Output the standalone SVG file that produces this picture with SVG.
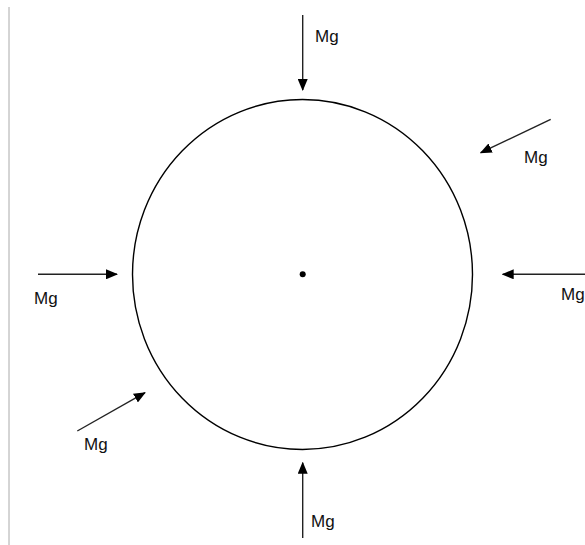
<svg xmlns="http://www.w3.org/2000/svg" width="585" height="545" viewBox="0 0 585 545">
<style>
.arr{stroke:#222;stroke-width:1.4;fill:none;marker-end:url(#ah)}
.lbl{font-family:"Liberation Sans",Arial,sans-serif;font-size:17px;fill:#111}
</style>
<defs>
<marker id="ah" markerWidth="12" markerHeight="10" refX="11" refY="5" orient="auto" markerUnits="userSpaceOnUse">
<path d="M0,0 L12,5 L0,10 Z" fill="#000"/>
</marker>
</defs>
<rect width="585" height="545" fill="#fff"/>
<line x1="9" y1="7" x2="9" y2="545" stroke="#aaa" stroke-width="1"/>
<g id="sphere">
<ellipse cx="302.5" cy="274.5" rx="170" ry="175" fill="none" stroke="#000" stroke-width="1.4"/>
<circle cx="302.7" cy="274.3" r="3" fill="#000"/>
</g>
<g id="connectors">
<line class="arr" x1="302.7" y1="15" x2="302.7" y2="90"/>
<line class="arr" x1="550.7" y1="119.3" x2="480.7" y2="152.7"/>
<line class="arr" x1="38" y1="274.3" x2="117" y2="274.3"/>
<line class="arr" x1="585" y1="274.3" x2="502.7" y2="274.3"/>
<line class="arr" x1="77.3" y1="431" x2="145" y2="392.7"/>
<line class="arr" x1="302.7" y1="538" x2="302.7" y2="462.7"/>
</g>
<g id="labels">
<text class="lbl" x="315" y="42">Mg</text>
<text class="lbl" x="524" y="163">Mg</text>
<text class="lbl" x="34" y="304">Mg</text>
<text class="lbl" x="561" y="300">Mg</text>
<text class="lbl" x="84" y="450">Mg</text>
<text class="lbl" x="311" y="527">Mg</text>
</g>
</svg>
